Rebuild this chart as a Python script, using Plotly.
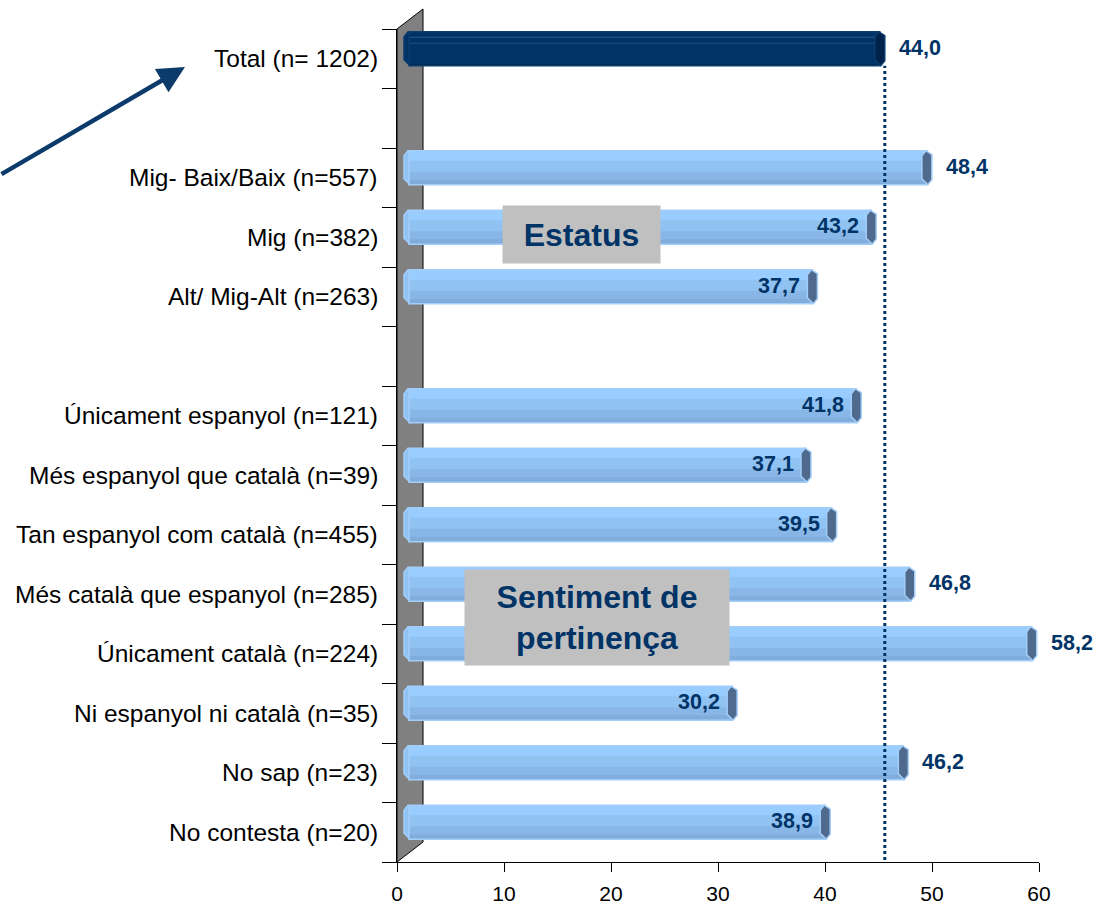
import plotly.graph_objects as go

# ---- data -------------------------------------------------------------
categories = [
    "Total (n= 1202)",
    "Mig- Baix/Baix (n=557)",
    "Mig (n=382)",
    "Alt/ Mig-Alt (n=263)",
    "Únicament espanyol (n=121)",
    "Més espanyol que català (n=39)",
    "Tan espanyol com català (n=455)",
    "Més català que espanyol (n=285)",
    "Únicament català (n=224)",
    "Ni espanyol ni català (n=35)",
    "No sap (n=23)",
    "No contesta (n=20)",
]
values = [44.0, 48.4, 43.2, 37.7, 41.8, 37.1, 39.5, 46.8, 58.2, 30.2, 46.2, 38.9]
x_ticks = [0, 10, 20, 30, 40, 50, 60]
group_titles = ["Estatus", "Sentiment de<br>pertinença"]

# ---- layout helpers ---------------------------------------------------
# row slot of each category counted from the top (blank slots separate groups)
row_slot = [0, 2, 3, 4, 6, 7, 8, 9, 10, 11, 12, 13]
N_SLOTS = 14
label_inside = [False, False, True, True, True, True, True, False, False, True, False, True]

W, H = 1094, 905
ML, MR, MT, MB = 397, 55, 29, 43
PW, PH = W - ML - MR, H - MT - MB
X_MAX = 60
PX_PER_X = PW / X_MAX
PX_PER_ROW = PH / N_SLOTS
DEPTH_X, DEPTH_Y = 12, 10          # 3-D offset of the bars from the floor/wall
BAR_PX = 34
T = BAR_PX / PX_PER_ROW            # bar thickness in row units

NAVY = "#003366"
FONT = "Liberation Sans, Arial, sans-serif"

ypos = [N_SLOTS - 0.5 - s for s in row_slot]

fig = go.Figure()

# invisible anchor trace for the visible axes
fig.add_trace(go.Scatter(x=[0], y=[0], mode="markers", marker=dict(opacity=0),
                         hoverinfo="skip", showlegend=False))


def add_bar_bands(xs, ys, bands, outline):
    """Stack horizontal colour bands inside each bar to give a tube look."""
    top = 0
    for k, (h_px, color) in enumerate(bands):
        a = top / PX_PER_ROW
        # overlap the next band by a pixel to hide anti-aliasing seams
        extra = 1 if k < len(bands) - 1 else 0
        b = (top + h_px + extra) / PX_PER_ROW
        fig.add_trace(go.Bar(
            x=xs, y=ys, orientation="h", base=0,
            width=b - a, offset=T / 2 - b,
            marker=dict(color=color, line=dict(width=0)),
            xaxis="x3", yaxis="y3", hoverinfo="skip", showlegend=False,
        ))
        top += h_px
    fig.add_trace(go.Bar(
        x=xs, y=ys, orientation="h", base=0, width=T, offset=-T / 2,
        marker=dict(color="rgba(0,0,0,0)", line=dict(color=outline, width=1.5)),
        xaxis="x3", yaxis="y3", hoverinfo="skip", showlegend=False,
    ))


light_bands = [(10, "#99CCFF"), (11, "#90C2F2"), (8, "#88B7E7"), (5, "#80ADDC")]
navy_bands = [(5, NAVY), (1, "#2A5A8C"), (5, NAVY), (1, "#224F80"),
              (21, NAVY), (1, "#00284F")]

add_bar_bands([values[0]], [ypos[0]], navy_bands, "#0B3D70")
add_bar_bands(values[1:], ypos[1:], light_bands, "#A3CEFA")

# ---- shapes -----------------------------------------------------------
shapes = []
wall_dx = 26 / PW
wall_dy = 20 / PH
shapes.append(dict(
    type="path", xref="paper", yref="paper", layer="below",
    path=f"M 0,0 L 0,1 L {wall_dx},{1 + wall_dy} L {wall_dx},{wall_dy} Z",
    fillcolor="#808080", line=dict(color="black", width=1),
))

cap = "M -5,-11 L -5,12 L -1,17 L 5,13 L 5,-12 L 1,-17 Z"
for i, (v, y) in enumerate(zip(values, ypos)):
    is_total = i == 0
    # rounded start of the tube at the wall
    shapes.append(dict(
        type="path", xref="x3", yref="y3", layer="below",
        xsizemode="pixel", ysizemode="pixel", xanchor=0, yanchor=y,
        path=cap, fillcolor=NAVY if is_total else "#90C2F2",
        line=dict(color="#0B3D70" if is_total else "#A3CEFA", width=1.5),
    ))
    # end face of the tube
    shapes.append(dict(
        type="path", xref="x3", yref="y3", layer="above",
        xsizemode="pixel", ysizemode="pixel", xanchor=v, yanchor=y,
        path=cap, fillcolor="#00224A" if is_total else "#4F6A8C",
        line=dict(color="#0B3D70" if is_total else "#A3CEFA", width=1.5),
    ))

# reference line at the total value
shapes.append(dict(
    type="line", xref="x3", yref="y3", xsizemode="pixel", xanchor=values[0],
    x0=5, x1=5, y0=-(DEPTH_Y + 4) / PX_PER_ROW, y1=ypos[0] - T / 2,
    line=dict(color=NAVY, width=3, dash="dot"), layer="above",
))

# ---- annotations ------------------------------------------------------
annotations = []
for name, y in zip(categories, ypos):
    annotations.append(dict(
        text=name, xref="paper", yref="y", x=-17 / PW, y=y,
        xanchor="right", yanchor="middle", showarrow=False,
        font=dict(family=FONT, size=24.5, color="black"),
    ))

for v, y, inside in zip(values, ypos, label_inside):
    annotations.append(dict(
        text=f"{v:.1f}".replace(".", ","), xref="x3", yref="y3", x=v, y=y,
        xanchor="right" if inside else "left", yanchor="middle",
        xshift=-10 if inside else 17, yshift=1, showarrow=False,
        font=dict(family=FONT, size=21.5, color=NAVY, weight="bold"),
    ))

# group title boxes
box_specs = [(503, 206, 157, 57), (465, 570, 264, 95)]
for title, (bx, by, bw, bh) in zip(group_titles, box_specs):
    annotations.append(dict(
        text=f"<b>{title}</b>", xref="paper", yref="paper",
        x=(bx + bw / 2 - ML) / PW, y=(MT + PH - (by + bh / 2)) / PH,
        xanchor="center", yanchor="middle", showarrow=False,
        width=bw, height=bh, borderpad=0, bgcolor="#C0C0C0", align="center",
        font=dict(family=FONT, size=32, color=NAVY),
    ))

# arrow pointing at the total row
annotations.append(dict(
    text="", xref="paper", yref="paper",
    x=(185 - ML) / PW, y=(MT + PH - 67) / PH, ax=-185, ay=108,
    showarrow=True, arrowhead=2, arrowsize=1.2, arrowwidth=4.5,
    arrowcolor="#0B3A6B", standoff=0,
))

# ---- layout -----------------------------------------------------------
fig.update_layout(
    width=W, height=H,
    margin=dict(l=ML, r=MR, t=MT, b=MB, pad=0, autoexpand=False),
    paper_bgcolor="white", plot_bgcolor="white",
    barmode="overlay", showlegend=False,
    font=dict(family=FONT, color="black"),
    xaxis=dict(range=[0, X_MAX], tickvals=x_ticks, ticks="outside", ticklen=9,
               tickcolor="black", showline=True, linecolor="black", linewidth=1,
               showgrid=False, zeroline=False, fixedrange=True, automargin=False,
               ticklabelstandoff=4,
               tickfont=dict(family=FONT, size=21, color="black")),
    yaxis=dict(range=[0, N_SLOTS], tickvals=list(range(N_SLOTS + 1)),
               ticks="outside", ticklen=14, tickcolor="black",
               showticklabels=False, showline=True, linecolor="black",
               linewidth=1, showgrid=False, zeroline=False, fixedrange=True,
               automargin=False),
    xaxis3=dict(overlaying="x", anchor="y",
                range=[-DEPTH_X / PX_PER_X, X_MAX - DEPTH_X / PX_PER_X],
                visible=False, fixedrange=True, automargin=False),
    yaxis3=dict(overlaying="y", anchor="x",
                range=[-DEPTH_Y / PX_PER_ROW, N_SLOTS - DEPTH_Y / PX_PER_ROW],
                visible=False, fixedrange=True, automargin=False),
    shapes=shapes,
    annotations=annotations,
)

fig.write_html("out.html")
